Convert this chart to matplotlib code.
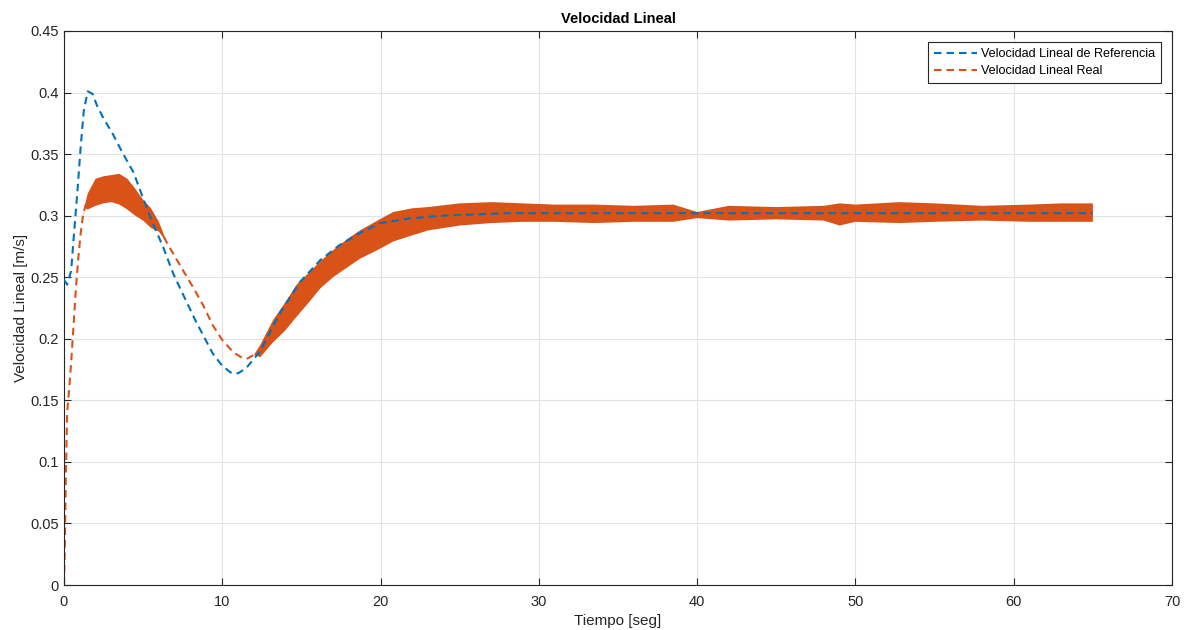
import matplotlib.pyplot as plt
import numpy as np

plt.rcParams['font.family'] = ['Liberation Sans', 'DejaVu Sans']

# Reference linear velocity (blue)
ref_t = [0, 0.2, 0.45, 0.6, 0.85, 1.05, 1.25, 1.5, 1.8, 2.1, 2.5, 3.1, 3.7, 4.4,
         5.0, 5.6, 6.25, 6.9, 7.3, 8.3, 9.4, 10.0, 10.6, 11.0, 11.5, 12.4, 13.0,
         13.6, 14.3, 14.9, 16.2, 17.4, 18.7, 20.0, 22.0, 24.0, 26.0, 28.0, 30.0,
         35.0, 40.0, 50.0, 65.0]
ref_v = [0.248, 0.244, 0.255, 0.280, 0.320, 0.355, 0.385, 0.401, 0.399, 0.389,
         0.379, 0.366, 0.351, 0.335, 0.314, 0.294, 0.275, 0.253, 0.242, 0.215,
         0.188, 0.178, 0.172, 0.172, 0.176, 0.190, 0.205, 0.220, 0.234, 0.246,
         0.264, 0.276, 0.286, 0.294, 0.298, 0.300, 0.301, 0.302, 0.302, 0.302,
         0.302, 0.302, 0.302]

# Real linear velocity (orange): lower / upper envelope of the noisy signal
real_t = [0, 0.05, 0.12, 0.2, 0.3, 0.45, 0.6, 0.75, 0.9, 1.05, 1.2, 1.35,
          1.5, 2.0, 2.5, 3.0, 3.5, 4.0, 4.5, 5.0, 5.5, 6.0,
          6.5, 7.0, 7.5, 8.15, 8.8, 9.4, 10.0, 10.7, 11.2, 11.6, 12.0,
          12.4, 13.2, 14.0, 14.7, 15.5, 16.2, 17.0, 17.9, 18.7, 19.8, 20.8,
          22.0, 23.0, 25.0, 27.0, 29.0, 31.0, 33.5, 36.0, 38.5, 40.0, 42.0,
          45.0, 48.0, 49.0, 50.0, 52.8, 55.0, 58.0, 61.0, 63.0, 65.0]
real_lo = [0, 0.03, 0.09, 0.14, 0.155, 0.18, 0.21, 0.24, 0.265, 0.285, 0.30, 0.306,
           0.305, 0.308, 0.310, 0.311, 0.309, 0.305, 0.300, 0.296, 0.290, 0.287,
           0.278, 0.267, 0.256, 0.242, 0.227, 0.211, 0.199, 0.189, 0.185, 0.184, 0.187,
           0.185, 0.197, 0.207, 0.218, 0.230, 0.241, 0.250, 0.258, 0.265, 0.272, 0.279,
           0.284, 0.288, 0.292, 0.294, 0.295, 0.295, 0.294, 0.295, 0.295, 0.298, 0.296,
           0.297, 0.296, 0.292, 0.295, 0.294, 0.295, 0.296, 0.295, 0.295, 0.295]
real_hi = [0, 0.03, 0.09, 0.14, 0.155, 0.18, 0.21, 0.24, 0.265, 0.285, 0.30, 0.310,
           0.318, 0.330, 0.332, 0.333, 0.334, 0.330, 0.322, 0.313, 0.306, 0.295,
           0.278, 0.267, 0.256, 0.242, 0.227, 0.211, 0.199, 0.189, 0.185, 0.184, 0.187,
           0.195, 0.215, 0.230, 0.244, 0.254, 0.263, 0.272, 0.281, 0.288, 0.296, 0.303,
           0.306, 0.307, 0.310, 0.311, 0.310, 0.309, 0.309, 0.308, 0.309, 0.303, 0.308,
           0.307, 0.308, 0.310, 0.309, 0.311, 0.310, 0.308, 0.309, 0.310, 0.310]

blue = '#0072BD'
orange = '#D95319'

fig = plt.figure(figsize=(11.87, 6.3), dpi=100)
ax = fig.add_axes([0.0539, 0.0714, 0.9335, 0.8794])

lo = np.array(real_lo)
hi = np.array(real_hi)
real_mid = (lo + hi) / 2
ax.fill_between(real_t, lo, hi, where=(hi - lo) > 0.0005, interpolate=True,
                color=orange, lw=0, zorder=2)
ax.plot(real_t, real_mid, color=orange, lw=1.5, dashes=(3.6, 2.4),
        label='Velocidad Lineal Real', zorder=2)
ax.plot(ref_t, ref_v, color=blue, lw=1.5, dashes=(3.6, 2.4),
        label='Velocidad Lineal de Referencia', zorder=3)

ax.set_xlim(0, 70)
ax.set_ylim(0, 0.45)
ax.set_xticks(np.arange(0, 71, 10))
ax.set_yticks(np.arange(0, 0.451, 0.05))
ax.set_yticklabels(['0', '0.05', '0.1', '0.15', '0.2', '0.25', '0.3', '0.35', '0.4', '0.45'])
ax.grid(True, color='#e3e3e3', lw=0.8)
ax.set_axisbelow(True)
ax.tick_params(direction='in', top=True, right=True, length=5, labelsize=10.5, colors='#262626')
ax.tick_params(axis='x', pad=7)
for s in ax.spines.values():
    s.set_color('#262626')
    s.set_linewidth(0.8)

ax.set_title('Velocidad Lineal', fontsize=10.5, fontweight='bold', pad=6)
ax.set_xlabel('Tiempo [seg]', fontsize=11, color='#262626', labelpad=4)
ax.set_ylabel('Velocidad Lineal [m/s]', fontsize=11, color='#262626', labelpad=2)

handles, labels = ax.get_legend_handles_labels()
leg = ax.legend(handles[::-1], labels[::-1], loc='upper right', fontsize=9.1, fancybox=False,
                edgecolor='#262626', framealpha=1, borderaxespad=0.9,
                handlelength=3.4, handletextpad=0.3, borderpad=0.45, labelspacing=0.4)
leg.get_frame().set_linewidth(0.8)

fig.savefig('out.png', dpi=100)
